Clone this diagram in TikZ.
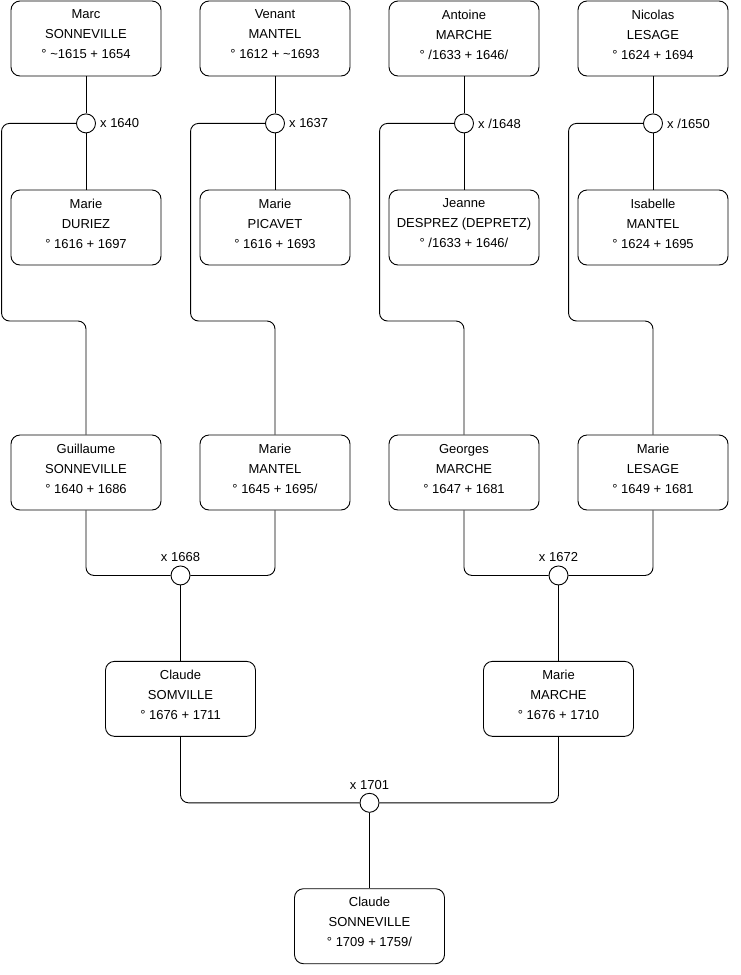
\documentclass[tikz,border=0pt]{standalone}
\usepackage{fontspec}
\setmainfont{Liberation Sans}
\usetikzlibrary{positioning, calc}

\begin{document}
\begin{tikzpicture}[
        person/.style={draw, rectangle, rounded corners=9pt, line width=0.9pt, minimum width=150pt, minimum height=75pt, align=center, inner sep=2pt, text depth=8pt, font=\fontsize{13}{20}\selectfont},
        union/.style={draw, circle, line width=0.9pt, minimum size=19pt, inner sep=0pt, fill=white},
        datelbl/.style={inner sep=2pt, font=\fontsize{13}{14}\selectfont},
        link/.style={line width=0.9pt, rounded corners=8pt}
    ]
    \useasboundingbox (0,0) rectangle (740pt,-975pt);
    \coordinate (lvl) at (0,-321pt);

    
    \node[person] (marc) at (86pt,-38.5pt) {Marc\\SONNEVILLE\\° \textasciitilde1615 + 1654};
    \node[person, right=38.1pt of marc] (venant) {Venant\\MANTEL\\° 1612 + \textasciitilde1693};
    \node[person, right=38.1pt of venant] (antoine) {Antoine\\MARCHE\\° /1633 + 1646/};
    \node[person, right=38.1pt of antoine] (nicolas) {Nicolas\\LESAGE\\° 1624 + 1694};

    
    \node[person, below=113.1pt of marc] (duriez) {Marie\\DURIEZ\\° 1616 + 1697};
    \node[person, below=113.1pt of venant] (picavet) {Marie\\PICAVET\\° 1616 + 1693};
    \node[person, below=113.1pt of antoine] (desprez) {Jeanne\\DESPREZ (DEPRETZ)\\° /1633 + 1646/};
    \node[person, below=113.1pt of nicolas] (imantel) {Isabelle\\MANTEL\\° 1624 + 1695};

    
    \node[union, below=37pt of marc] (u1640) {};
    \node[datelbl, right=2pt of u1640] (l1640) {x 1640};
    \node[union, below=37pt of venant] (u1637) {};
    \node[datelbl, right=2pt of u1637] (l1637) {x 1637};
    \node[union, below=37pt of antoine] (u1648) {};
    \node[datelbl, right=2pt of u1648] (l1648) {x /1648};
    \node[union, below=37pt of nicolas] (u1650) {};
    \node[datelbl, right=2pt of u1650] (l1650) {x /1650};

    
    \node[person, below=169.1pt of duriez] (guillaume) {Guillaume\\SONNEVILLE\\° 1640 + 1686};
    \node[person, below=169.1pt of picavet] (mmantel) {Marie\\MANTEL\\° 1645 + 1695/};
    \node[person, below=169.1pt of desprez] (georges) {Georges\\MARCHE\\° 1647 + 1681};
    \node[person, below=169.1pt of imantel] (mlesage) {Marie\\LESAGE\\° 1649 + 1681};

    
    \node[union] (u1668) at ($(guillaume.south)!0.5!(mmantel.south)+(0,-65pt)$) {};
    \node[datelbl, above=1.5pt of u1668] (l1668) {x 1668};
    \node[union] (u1672) at ($(georges.south)!0.5!(mlesage.south)+(0,-65pt)$) {};
    \node[datelbl, above=1.5pt of u1672] (l1672) {x 1672};

    \node[person, below=75.5pt of u1668] (claude) {Claude\\SOMVILLE\\° 1676 + 1711};
    \node[person, below=75.5pt of u1672] (mmarche) {Marie\\MARCHE\\° 1676 + 1710};

    
    \node[union] (u1701) at ($(claude.south)!0.5!(mmarche.south)+(0,-66pt)$) {};
    \node[datelbl, above=1.5pt of u1701] (l1701) {x 1701};
    \node[person, below=75.5pt of u1701] (csonneville) {Claude\\SONNEVILLE\\° 1709 + 1759/};

    
    \draw[link] (marc) -- (u1640) -- (duriez);
    \draw[link] (venant) -- (u1637) -- (picavet);
    \draw[link] (antoine) -- (u1648) -- (desprez);
    \draw[link] (nicolas) -- (u1650) -- (imantel);

    \draw[link] (u1640.west) -| ($(marc.west |- lvl)+(-9pt,0)$) -| (guillaume.north);
    \draw[link] (u1637.west) -| ($(venant.west |- lvl)+(-9pt,0)$) -| (mmantel.north);
    \draw[link] (u1648.west) -| ($(antoine.west |- lvl)+(-9pt,0)$) -| (georges.north);
    \draw[link] (u1650.west) -| ($(nicolas.west |- lvl)+(-9pt,0)$) -| (mlesage.north);

    \draw[link] (guillaume.south) |- (u1668.west);
    \draw[link] (mmantel.south) |- (u1668.east);
    \draw[link] (u1668) -- (claude);
    \draw[link] (georges.south) |- (u1672.west);
    \draw[link] (mlesage.south) |- (u1672.east);
    \draw[link] (u1672) -- (mmarche);

    \draw[link] (claude.south) |- (u1701.west);
    \draw[link] (mmarche.south) |- (u1701.east);
    \draw[link] (u1701) -- (csonneville);

\end{tikzpicture}
\end{document}
